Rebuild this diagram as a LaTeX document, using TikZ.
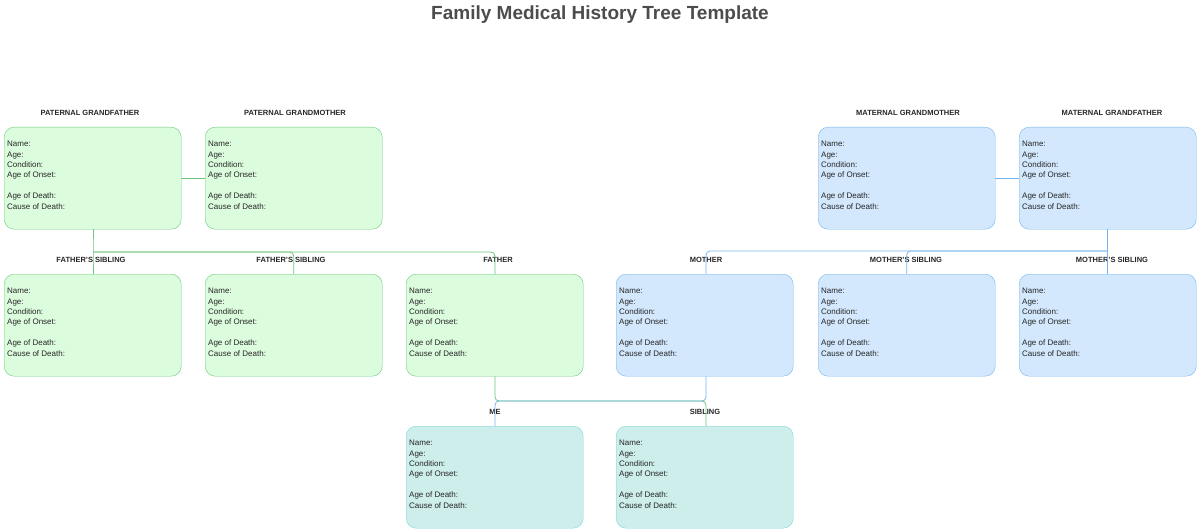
\documentclass[tikz,border=0pt]{standalone}
\usepackage{fontspec}
\setmainfont{Liberation Sans}
\begin{document}
\begin{tikzpicture}[x=1pt,y=-1pt,
 box/.style={draw, rounded corners=10pt, minimum width=177pt, minimum height=102pt, anchor=north west, inner sep=0pt},
 gbox/.style={box, fill=gf, draw=gd},
 bbox/.style={box, fill=bf, draw=bd},
 tbox/.style={box, fill=tf, draw=td},
 info/.style={anchor=north west, align=left, font=\fontsize{8}{10.4}\selectfont, text=black!85, inner sep=0pt},
 lab/.style={font=\bfseries\fontsize{7.5}{9}\selectfont, text=black!85},
 gl/.style={draw=gd, line width=0.8pt, rounded corners=4pt},
 bl/.style={draw=bd, line width=0.8pt, rounded corners=4pt}]
\definecolor{gf}{HTML}{DCFCDE}\definecolor{gd}{HTML}{6CC77A}
\definecolor{bf}{HTML}{D3E8FD}\definecolor{bd}{HTML}{74B6EE}
\definecolor{tf}{HTML}{CDEEEB}\definecolor{td}{HTML}{7DD6DE}
\useasboundingbox (0,0) rectangle (1200,532);
\node[font=\bfseries\fontsize{19}{22}\selectfont, text=black!70] (title) at (600,15) {Family Medical History Tree Template};
\newcommand{\infotext}{Name:\\Age:\\Condition:\\Age of Onset:\\[10.4pt]Age of Death:\\Cause of Death:}
\newcommand{\person}[6]{%
 \node[#2] (#1) at (#3,#4) {};
 \node[info] (#1t) at (#3+3,#4+14) {\infotext};
 \node[lab] (#1l) at (#5,#4-14) {#6};}
\person{pgf}{gbox}{4}{127}{90}{PATERNAL GRANDFATHER}
\person{pgm}{gbox}{205}{127}{295}{PATERNAL GRANDMOTHER}
\person{mgm}{bbox}{818}{127}{908}{MATERNAL GRANDMOTHER}
\person{mgf}{bbox}{1019}{127}{1112}{MATERNAL GRANDFATHER}
\person{fs1}{gbox}{4}{274}{91}{FATHER'S SIBLING}
\person{fs2}{gbox}{205}{274}{291}{FATHER'S SIBLING}
\person{fa}{gbox}{406}{274}{498}{FATHER}
\person{mo}{bbox}{616}{274}{706}{MOTHER}
\person{ms1}{bbox}{818}{274}{906}{MOTHER'S SIBLING}
\person{ms2}{bbox}{1019}{274}{1112}{MOTHER'S SIBLING}
\person{me}{tbox}{406}{426}{495}{ME}
\person{si}{tbox}{616}{426}{705}{SIBLING}
\coordinate (pj) at (93,252);
\coordinate (mj) at (1107,251);
\coordinate (cj) at (495,401);
\coordinate (dj) at (706,401);
% paternal
\draw[gl] (pgf.east) -- (pgm.west);
\draw[gl] (pgf.south -| pj) -- (pj) -- (fs1.north -| pj);
\draw[gl] (pj) -- (pj -| fs2.north) -- (fs2.north);
\draw[gl] (pj) -- (pj -| cj) -- (fa.north -| cj);
% maternal
\draw[bl] (mgm.east) -- (mgf.east -| mgf.west);
\draw[bl] (mgf.south -| mj) -- (mj) -- (ms2.north -| mj);
\draw[bl] (mj) -- (mj -| ms1.north) -- (ms1.north);
\draw[bl] (mj) -- (mj -| dj) -- (mo.north -| dj);
% children
\draw[gl] (fa.south -| cj) -- (cj) -- (dj) -- (si.north -| dj);
\draw[bl] (mo.south -| dj) -- (dj) -- (cj) -- (me.north -| cj);
\end{tikzpicture}
\end{document}
